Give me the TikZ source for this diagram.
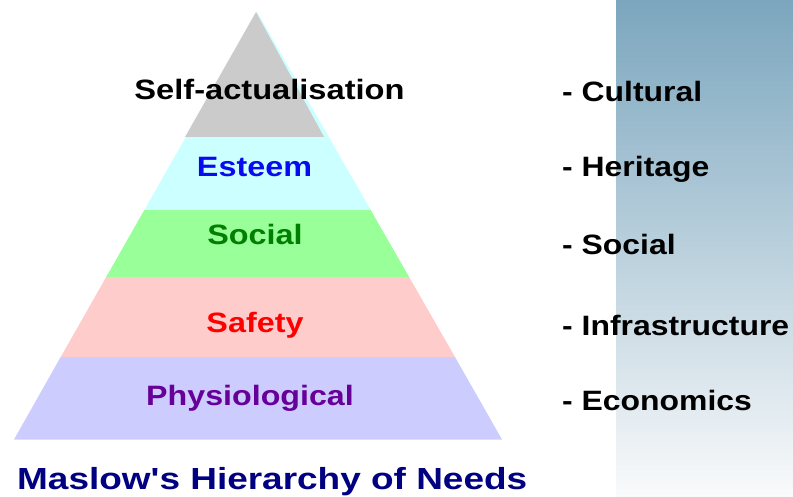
\documentclass[tikz,border=0pt]{standalone}
\usepackage{graphicx}
\usepackage{fontspec}
\setmainfont{Liberation Sans}
\begin{document}
\definecolor{topgray}{RGB}{203,203,203}
\definecolor{esteemfill}{RGB}{204,255,255}
\definecolor{socialfill}{RGB}{153,255,153}
\definecolor{safetyfill}{RGB}{255,204,204}
\definecolor{physfill}{RGB}{204,204,255}
\definecolor{esteemtext}{RGB}{10,10,240}
\definecolor{socialtext}{RGB}{0,128,0}
\definecolor{safetytext}{RGB}{255,0,0}
\definecolor{phystext}{RGB}{102,0,153}
\definecolor{titlenavy}{RGB}{0,0,128}
\definecolor{panelTop}{RGB}{123,166,190}
\definecolor{panelMid}{RGB}{208,221,229}
\definecolor{panelBot}{RGB}{249,250,251}
\begin{tikzpicture}[x=1pt,y=-1pt,
  level/.style={font=\bfseries\fontsize{28}{30}\selectfont, anchor=base, inner sep=0pt},
  need/.style={font=\bfseries\fontsize{28}{30}\selectfont, anchor=base west, inner sep=0pt, text=black},
  heading/.style={font=\bfseries\fontsize{30.5}{32}\selectfont, anchor=base west, inner sep=0pt, text=titlenavy}]
\useasboundingbox (0,0) rectangle (793,497);

% shaded panel on the right
\shade[top color=panelTop, middle color=panelMid, bottom color=panelBot]
  (616,0) rectangle (793,497);

% pyramid layers, bottom to top
\fill[physfill]   (60.7,357) -- (455,357) -- (502,439.5) -- (14,439.5) -- cycle;
\fill[safetyfill] (106.2,277) -- (409.1,277) -- (455,357) -- (60.7,357) -- cycle;
\fill[socialfill] (144.3,210) -- (370.7,210) -- (409.1,277) -- (106.2,277) -- cycle;
\fill[esteemfill] (257,12) -- (370.7,210) -- (144.3,210) -- cycle;
\fill[topgray]    (256,12) -- (324,137) -- (185,137) -- cycle;

% layer labels
\node[level, text=black]       (selfact) at (269.5,100) {\scalebox{1.165}[1]{Self-actualisation}};
\node[level, text=esteemtext]  (esteem)  at (254.5,177) {\scalebox{1.155}[1]{Esteem}};
\node[level, text=socialtext]  (social)  at (255,245)   {\scalebox{1.155}[1]{Social}};
\node[level, text=safetytext]  (safety)  at (255,333)   {\scalebox{1.155}[1]{Safety}};
\node[level, text=phystext]    (phys)    at (250,405)   {\scalebox{1.15}[1]{Physiological}};

% related needs list
\node[need] (cultural) at (562,102) {\scalebox{1.14}[1]{- Cultural}};
\node[need] (heritage) at (562,177) {\scalebox{1.14}[1]{- Heritage}};
\node[need] (socneed)  at (562,255) {\scalebox{1.14}[1]{- Social}};
\node[need] (infra)    at (562,335) {\scalebox{1.14}[1]{- Infrastructure}};
\node[need] (econ)     at (562,410) {\scalebox{1.14}[1]{- Economics}};

% title
\node[heading] (title) at (17,489) {\scalebox{1.212}[1]{Maslow\textquotesingle s Hierarchy of Needs}};
\end{tikzpicture}
\end{document}
